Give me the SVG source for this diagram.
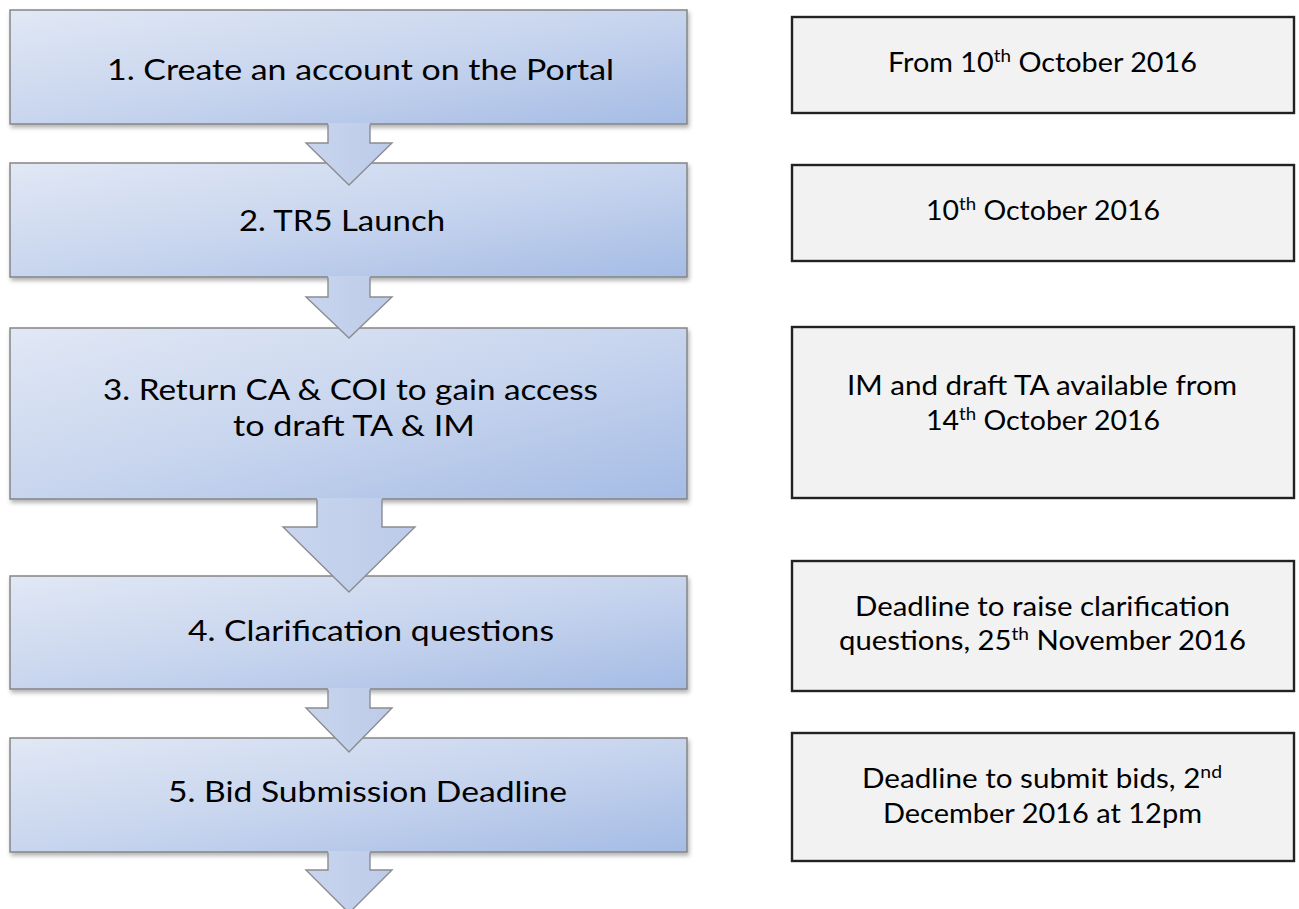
<svg xmlns="http://www.w3.org/2000/svg" width="1299" height="909" viewBox="0 0 1299 909">
  <defs>
    <linearGradient id="boxFill" x1="0" y1="0" x2="1" y2="1">
      <stop offset="0" stop-color="#e1e8f5"/>
      <stop offset="0.5" stop-color="#c8d5ee"/>
      <stop offset="1" stop-color="#a5bce5"/>
    </linearGradient>
    <linearGradient id="arrowFill" x1="0" y1="0" x2="1" y2="0">
      <stop offset="0" stop-color="#c9d5ee"/>
      <stop offset="1" stop-color="#bccbe9"/>
    </linearGradient>
    <filter id="shadow" x="-5%" y="-10%" width="110%" height="130%">
      <feDropShadow dx="1.5" dy="3" stdDeviation="2" flood-color="#000" flood-opacity="0.3"/>
    </filter>
  </defs>
  <style>
    .step rect { fill: url(#boxFill); stroke: #858585; stroke-width: 1.5; filter: url(#shadow); }
    .step text { font-family: Lato, "Liberation Sans", sans-serif; font-size: 29px; fill: #000; }
    .note rect { fill: #f2f2f2; stroke: #222; stroke-width: 2.4; }
    .note text { font-family: Lato, "Liberation Sans", sans-serif; font-size: 26px; fill: #000; }
    .sup { font-size: 17px; }
    .arrow-fill { fill: url(#arrowFill); stroke: none; }
    .arrow-line { fill: none; stroke: #8a8c90; stroke-width: 1.4; stroke-linejoin: miter; }
  </style>
  <rect width="1299" height="909" fill="#ffffff"/>

  <g id="step1" class="step">
    <rect x="10" y="10" width="677" height="114"/>
    <text x="107" y="80" textLength="507" lengthAdjust="spacingAndGlyphs">1. Create an account on the Portal</text>
  </g>
  <g id="step2" class="step">
    <rect x="10" y="163" width="677" height="114"/>
    <text x="239" y="231" textLength="206" lengthAdjust="spacingAndGlyphs">2. TR5 Launch</text>
  </g>
  <g id="step3" class="step">
    <rect x="10" y="328" width="677" height="171"/>
    <text x="103" y="400" textLength="495" lengthAdjust="spacingAndGlyphs">3. Return CA &amp; COI to gain access</text>
    <text x="233" y="436" textLength="242" lengthAdjust="spacingAndGlyphs">to draft TA &amp; IM</text>
  </g>
  <g id="step4" class="step">
    <rect x="10" y="576" width="677" height="113"/>
    <text x="188" y="641" textLength="366" lengthAdjust="spacingAndGlyphs">4. Clarification questions</text>
  </g>
  <g id="step5" class="step">
    <rect x="10" y="738" width="677" height="114"/>
    <text x="168" y="802" textLength="399" lengthAdjust="spacingAndGlyphs">5. Bid Submission Deadline</text>
  </g>

  <g id="note1" class="note">
    <rect x="792" y="17" width="502" height="96"/>
    <text x="888" y="72" textLength="309" lengthAdjust="spacingAndGlyphs">From 10<tspan class="sup" dy="-10">th</tspan><tspan dy="10"> October 2016</tspan></text>
  </g>
  <g id="note2" class="note">
    <rect x="792" y="165" width="502" height="96"/>
    <text x="926" y="220" textLength="234" lengthAdjust="spacingAndGlyphs">10<tspan class="sup" dy="-10">th</tspan><tspan dy="10"> October 2016</tspan></text>
  </g>
  <g id="note3" class="note">
    <rect x="792" y="327" width="502" height="171"/>
    <text x="847" y="395" textLength="390" lengthAdjust="spacingAndGlyphs">IM and draft TA available from</text>
    <text x="926" y="430" textLength="234" lengthAdjust="spacingAndGlyphs">14<tspan class="sup" dy="-10">th</tspan><tspan dy="10"> October 2016</tspan></text>
  </g>
  <g id="note4" class="note">
    <rect x="792" y="561" width="502" height="130"/>
    <text x="855" y="616" textLength="375" lengthAdjust="spacingAndGlyphs">Deadline to raise clarification</text>
    <text x="839" y="650" textLength="407" lengthAdjust="spacingAndGlyphs">questions, 25<tspan class="sup" dy="-10">th</tspan><tspan dy="10"> November 2016</tspan></text>
  </g>
  <g id="note5" class="note">
    <rect x="792" y="733" width="502" height="128"/>
    <text x="862" y="788" textLength="360" lengthAdjust="spacingAndGlyphs">Deadline to submit bids, 2<tspan class="sup" dy="-10">nd</tspan></text>
    <text x="883" y="823" textLength="319" lengthAdjust="spacingAndGlyphs">December 2016 at 12pm</text>
  </g>

  <g id="connectors">
    <g id="arrow1">
      <path class="arrow-fill" d="M328,123 L328,143 L306,143 L349,185 L392,143 L370,143 L370,123 Z"/>
      <path class="arrow-line" d="M328,124.5 L328,143 L306,143 L349,185 L392,143 L370,143 L370,124.5"/>
    </g>
    <g id="arrow2">
      <path class="arrow-fill" d="M328,276 L328,297 L306,297 L349,338 L392,297 L370,297 L370,276 Z"/>
      <path class="arrow-line" d="M328,277.5 L328,297 L306,297 L349,338 L392,297 L370,297 L370,277.5"/>
    </g>
    <g id="arrow3">
      <path class="arrow-fill" d="M317,498 L317,527 L283,527 L349,592 L415,527 L382,527 L382,498 Z"/>
      <path class="arrow-line" d="M317,499.5 L317,527 L283,527 L349,592 L415,527 L382,527 L382,499.5"/>
    </g>
    <g id="arrow4">
      <path class="arrow-fill" d="M328,688 L328,708 L306,708 L349,752 L392,708 L370,708 L370,688 Z"/>
      <path class="arrow-line" d="M328,689.5 L328,708 L306,708 L349,752 L392,708 L370,708 L370,689.5"/>
    </g>
    <g id="arrow5">
      <path class="arrow-fill" d="M328,851 L328,870 L306,870 L349,913 L392,870 L370,870 L370,851 Z"/>
      <path class="arrow-line" d="M328,852.5 L328,870 L306,870 L349,913 L392,870 L370,870 L370,852.5"/>
    </g>
  </g>
</svg>
